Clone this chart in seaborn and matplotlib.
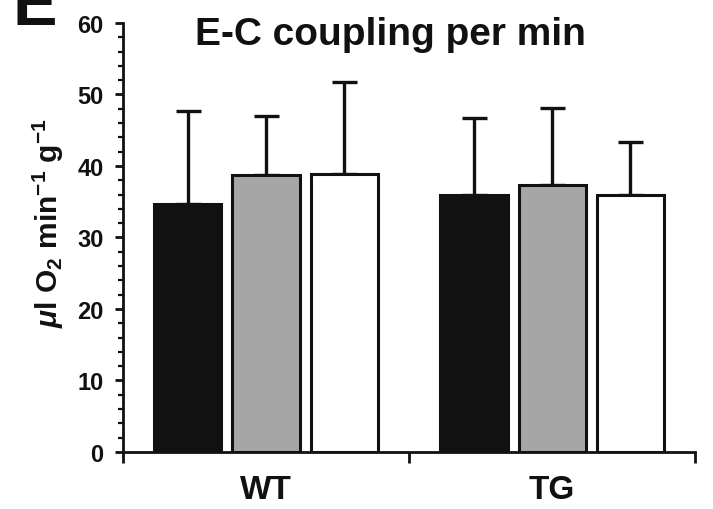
import numpy as np
import pandas as pd
import matplotlib
matplotlib.use("Agg")
import matplotlib.pyplot as plt
import seaborn as sns
from matplotlib.ticker import MultipleLocator, FixedLocator

groups = ["WT", "TG"]
conditions = ["A", "B", "C"]
means_wt = [34.7, 38.7, 38.9]
means_tg = [35.9, 37.4, 35.9]
sd_wt = [13.0, 8.3, 12.8]
sd_tg = [10.8, 10.7, 7.4]
bar_colors = ["#111111", "#a6a6a6", "#ffffff"]

sns.set_theme(style="white")
plt.rcParams["font.family"] = ["Liberation Sans", "DejaVu Sans"]
plt.rcParams["mathtext.fontset"] = "custom"
plt.rcParams["mathtext.rm"] = "Liberation Sans:bold"
plt.rcParams["mathtext.it"] = "Liberation Sans:bold:italic"
plt.rcParams["mathtext.bf"] = "Liberation Sans:bold"

df = pd.DataFrame({
    "group": [g for g in groups for _ in conditions],
    "cond": conditions * len(groups),
    "value": means_wt + means_tg,
    "sd": sd_wt + sd_tg,
})

fig = plt.figure(figsize=(7.13, 5.10), dpi=100)
ax = fig.add_axes([0.1725, 0.1118, 0.8025, 0.8412])

sns.barplot(data=df, x="group", y="value", hue="cond", order=groups,
            hue_order=conditions, palette=bar_colors, width=0.82, gap=0.14,
            edgecolor="#111111", linewidth=2.2, errorbar=None, legend=False, ax=ax)

# error bars (upper only) through bar positions
for cont, cond in zip(ax.containers, conditions):
    sub = df[df["cond"] == cond].set_index("group").loc[groups]
    xs = [p.get_x() + p.get_width() / 2 for p in cont.patches]
    ax.errorbar(xs, sub["value"].values,
                yerr=[np.zeros(len(xs)), sub["sd"].values],
                fmt="none", ecolor="#111111", elinewidth=2.4, capsize=9,
                capthick=2.4, zorder=0)

ax.set_xlim(-0.5, 1.5)
ax.set_ylim(0, 60)
ax.yaxis.set_major_locator(MultipleLocator(10))
ax.yaxis.set_minor_locator(MultipleLocator(2))
ax.xaxis.set_minor_locator(FixedLocator([-0.5, 0.5, 1.5]))

for s in ["top", "right"]:
    ax.spines[s].set_visible(False)
for s in ["left", "bottom"]:
    ax.spines[s].set_linewidth(2.0)
    ax.spines[s].set_color("#111111")

ax.tick_params(axis="y", which="major", direction="out", length=6, width=2.0,
               color="#111111", left=True, labelsize=17, pad=8)
ax.tick_params(axis="y", which="minor", direction="out", length=3.5, width=1.6,
               color="#111111", left=True)
ax.tick_params(axis="x", which="major", length=0, labelsize=24, pad=16)
ax.tick_params(axis="x", which="minor", direction="out", length=8, width=2.0,
               color="#111111", bottom=True)
for lab in ax.get_xticklabels() + ax.get_yticklabels():
    lab.set_fontweight("bold")
    lab.set_color("#111111")

ax.set_xlabel("")
ax.set_ylabel(r"$\mathit{\mu}$l O$_2$ min$^{-1}$ g$^{-1}$", fontsize=21.5,
              fontweight="bold", color="#111111")
ax.yaxis.set_label_coords(-0.1, 0.535)

fig.text(390 / 713, 1 - 45 / 510, "E-C coupling per min", fontsize=28,
         fontweight="bold", color="#111111", ha="center", va="baseline")

fig.text(0.018, 1 - 25 / 510, "E", fontsize=48, fontweight="bold",
         color="#111111", va="baseline", ha="left")

fig.savefig("out.png", dpi=100)
